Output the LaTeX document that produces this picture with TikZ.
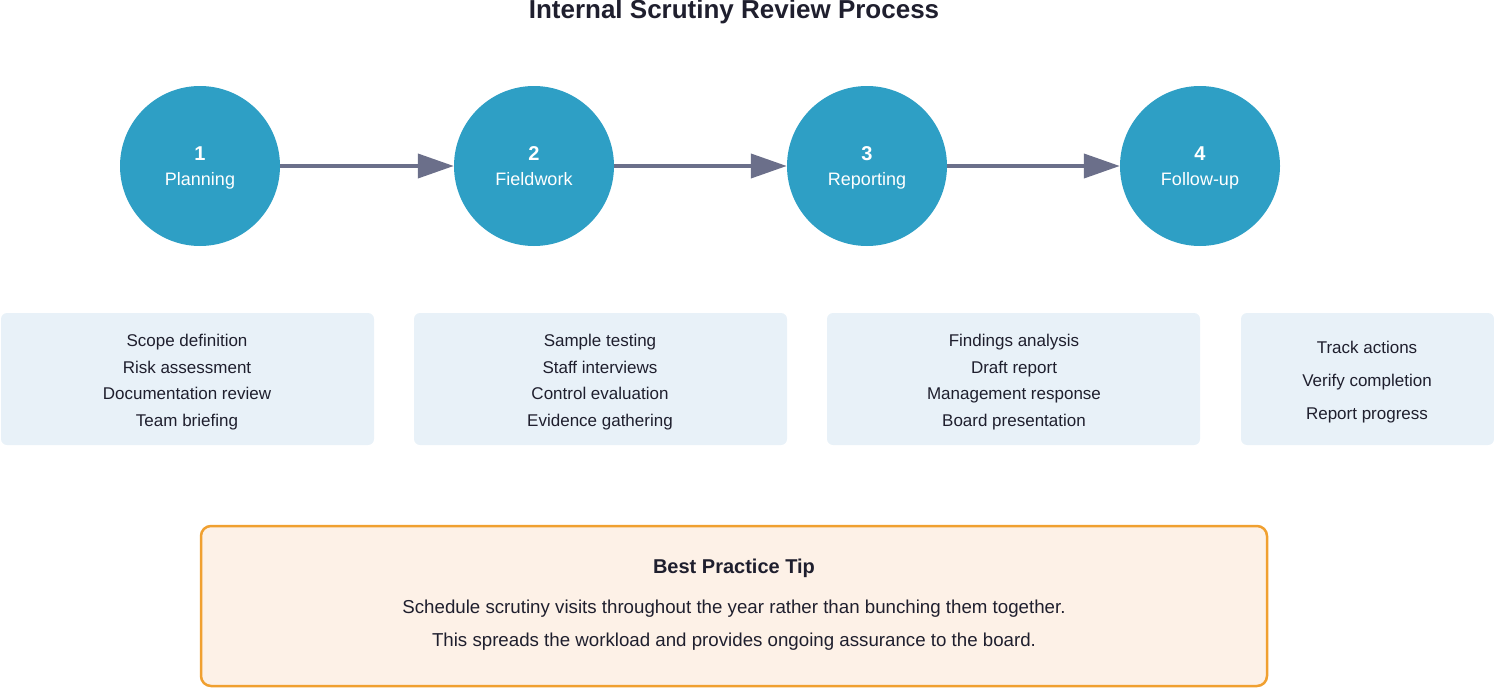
\documentclass[tikz,border=0pt]{standalone}
\usepackage{fontspec}
\setmainfont{Liberation Sans}
\usetikzlibrary{arrows.meta}
\definecolor{circ}{HTML}{2E9FC5}
\definecolor{arr}{HTML}{6B6F8A}
\definecolor{boxf}{HTML}{E8F1F8}
\definecolor{tipf}{HTML}{FDF1E7}
\definecolor{tipd}{HTML}{F0A030}
\definecolor{txt}{HTML}{1F1F2E}
\begin{document}
\begin{tikzpicture}[x=1pt,y=-1pt,
  stage/.style={circle,fill=circ,minimum size=160pt,inner sep=0pt},
  flow/.style={arr,line width=4pt,-{Triangle[length=36pt,width=24pt]}},
  box/.style={fill=boxf,rounded corners=6pt,draw=none},
  lbl/.style={text=txt,font=\fontsize{17}{20}\selectfont,anchor=center,text height=12pt,text depth=3pt}]
\useasboundingbox (0,0) rectangle (1494,688);
\node[text=txt,font=\bfseries\fontsize{26}{30}\selectfont,text height=19pt,text depth=5pt,inner sep=0pt] (title) at (734,12) {Internal Scrutiny Review Process};
\node[stage] (s1) at (200,166) {};
\node[stage] (s2) at (534,166) {};
\node[stage] (s3) at (867,166) {};
\node[stage] (s4) at (1200,166) {};
\foreach \n/\x/\t in {1/200/Planning,2/534/Fieldwork,3/867/Reporting,4/1200/Follow-up}{
  \node[text=white,font=\bfseries\fontsize{20}{24}\selectfont,text height=14pt,text depth=0pt] (n\n) at (\x,153) {\n};
  \node[text=white,font=\fontsize{18}{22}\selectfont,text height=13pt,text depth=4pt] (t\n) at (\x,181) {\t};
}
\draw[flow] (s1) -- (s2);
\draw[flow] (s2) -- (s3);
\draw[flow] (s3) -- (s4);
\fill[box] (1,313) rectangle (374,445);
\fill[box] (414,313) rectangle (787,445);
\fill[box] (827,313) rectangle (1200,445);
\fill[box] (1241,313) rectangle (1494,445);
\node[lbl] (a1) at (187,342) {Scope definition};
\node[lbl] (a2) at (187,369) {Risk assessment};
\node[lbl] (a3) at (187,395) {Documentation review};
\node[lbl] (a4) at (187,422) {Team briefing};
\node[lbl] (b1) at (600,342) {Sample testing};
\node[lbl] (b2) at (600,369) {Staff interviews};
\node[lbl] (b3) at (600,395) {Control evaluation};
\node[lbl] (b4) at (600,422) {Evidence gathering};
\node[lbl] (c1) at (1014,342) {Findings analysis};
\node[lbl] (c2) at (1014,369) {Draft report};
\node[lbl] (c3) at (1014,395) {Management response};
\node[lbl] (c4) at (1014,422) {Board presentation};
\node[lbl] (d1) at (1367,349) {Track actions};
\node[lbl] (d2) at (1367,382) {Verify completion};
\node[lbl] (d3) at (1367,415) {Report progress};
\draw[fill=tipf,draw=tipd,line width=2.5pt,rounded corners=10pt] (201,526) rectangle (1267,686);
\node[text=txt,font=\bfseries\fontsize{20}{24}\selectfont,text height=14pt,text depth=4pt] (tt) at (734,568) {Best Practice Tip};
\node[lbl,font=\fontsize{18.7}{22}\selectfont,text height=13.5pt,text depth=3.5pt] (l1) at (734,608) {Schedule scrutiny visits throughout the year rather than bunching them together.};
\node[lbl,font=\fontsize{18.7}{22}\selectfont,text height=13.5pt,text depth=3.5pt] (l2) at (734,641) {This spreads the workload and provides ongoing assurance to the board.};
\end{tikzpicture}
\end{document}
